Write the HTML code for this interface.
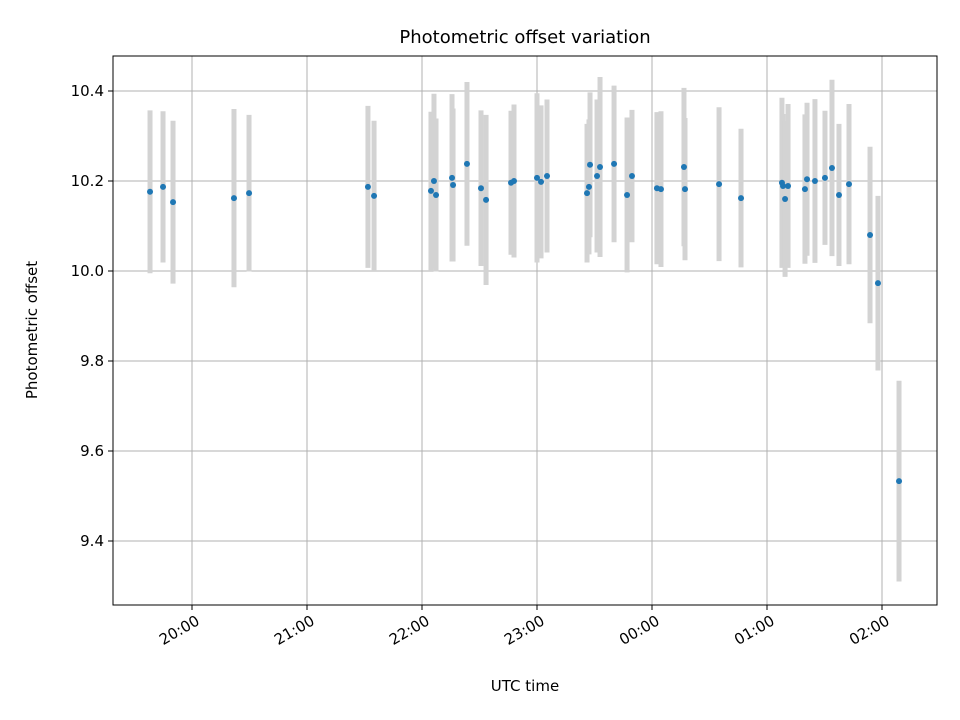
<!DOCTYPE html>
<html><head><meta charset="utf-8"><style>
body{margin:0;background:#fff;}
svg{display:block;font-family:"DejaVu Sans","Liberation Sans",sans-serif;}
</style></head><body>
<svg id="chart" width="960" height="720" viewBox="0 0 960 720" xmlns="http://www.w3.org/2000/svg">
<rect width="960" height="720" fill="#fff"/>
<text x="525" y="43" font-size="18" text-anchor="middle">Photometric offset variation</text>
<g id="grid"></g><g id="bars"></g><g id="pts"></g><g id="ticks"></g>
<rect x="113" y="56" width="824" height="549" fill="none" stroke="#000" stroke-width="1"/>
<text x="525" y="691" font-size="15" text-anchor="middle">UTC time</text>
<text transform="translate(37,330) rotate(-90)" font-size="15" text-anchor="middle">Photometric offset</text>
</svg>
<script>
// hours since 19:00 UTC
const times=[0.635,0.748,0.835,1.365,1.496,2.530,2.583,3.078,3.104,3.122,3.261,3.270,3.391,3.513,3.557,3.774,3.800,4.000,4.035,4.087,4.435,4.452,4.461,4.522,4.548,4.670,4.783,4.826,5.043,5.078,5.278,5.287,5.583,5.774,6.130,6.139,6.157,6.183,6.330,6.348,6.417,6.504,6.565,6.626,6.713,6.896,6.965,7.148];
const offsets=[10.176,10.187,10.153,10.162,10.173,10.187,10.167,10.178,10.2,10.169,10.207,10.191,10.238,10.184,10.158,10.196,10.2,10.207,10.198,10.211,10.173,10.187,10.236,10.211,10.231,10.238,10.169,10.211,10.184,10.182,10.231,10.182,10.193,10.162,10.196,10.189,10.16,10.189,10.182,10.204,10.2,10.207,10.229,10.169,10.193,10.08,9.973,9.533];
const errors=[0.181,0.168,0.181,0.198,0.174,0.18,0.167,0.176,0.194,0.17,0.186,0.17,0.182,0.173,0.189,0.16,0.17,0.188,0.17,0.17,0.154,0.15,0.161,0.17,0.2,0.174,0.172,0.147,0.169,0.173,0.176,0.158,0.171,0.154,0.189,0.16,0.173,0.182,0.166,0.17,0.182,0.149,0.196,0.158,0.178,0.196,0.194,0.223];
const xTickLabels=["20:00","21:00","22:00","23:00","00:00","01:00","02:00"];
const xTickHours=[1,2,3,4,5,6,7];
const yTicks=[9.4,9.6,9.8,10.0,10.2,10.4];
const NS="http://www.w3.org/2000/svg";
const X=h=>77+h*115, Y=v=>271-(v-10)*450;
function mk(t,a,p){const e=document.createElementNS(NS,t);for(const k in a)e.setAttribute(k,a[k]);document.getElementById(p).appendChild(e);return e;}
xTickHours.forEach((h,i)=>{const x=X(h);
 const g=mk('line',{x1:x,x2:x,y1:56,y2:605,stroke:'#b0b0b0','stroke-width':1},'grid');
 
 const t=mk('line',{x1:x,x2:x,y1:605,y2:610,stroke:'#000'},'ticks');
 
 const l=mk('text',{x:x+3,y:614,'font-size':15,'text-anchor':'end','dominant-baseline':'hanging',transform:`rotate(-30 ${x+3} 614)`},'ticks');
 
 l.textContent=xTickLabels[i];});
yTicks.forEach(v=>{const y=Y(v);
 const g=mk('line',{x1:113,x2:937,y1:y,y2:y,stroke:'#b0b0b0','stroke-width':1},'grid');
 
 const t=mk('line',{x1:108,x2:113,y1:y,y2:y,stroke:'#000'},'ticks');
 
 const l=mk('text',{x:104,y:y+5,'font-size':15,'text-anchor':'end'},'ticks');
 
 l.textContent=v.toFixed(1);});
times.forEach((h,i)=>{const x=X(h);
 const b=mk('line',{x1:x,x2:x,y1:Y(offsets[i]+errors[i]),y2:Y(offsets[i]-errors[i]),stroke:'#d3d3d3','stroke-width':5},'bars');
 
 const c=mk('circle',{cx:x,cy:Y(offsets[i]),r:3,fill:'#1f77b4'},'pts');
 });
</script>
</body></html>
